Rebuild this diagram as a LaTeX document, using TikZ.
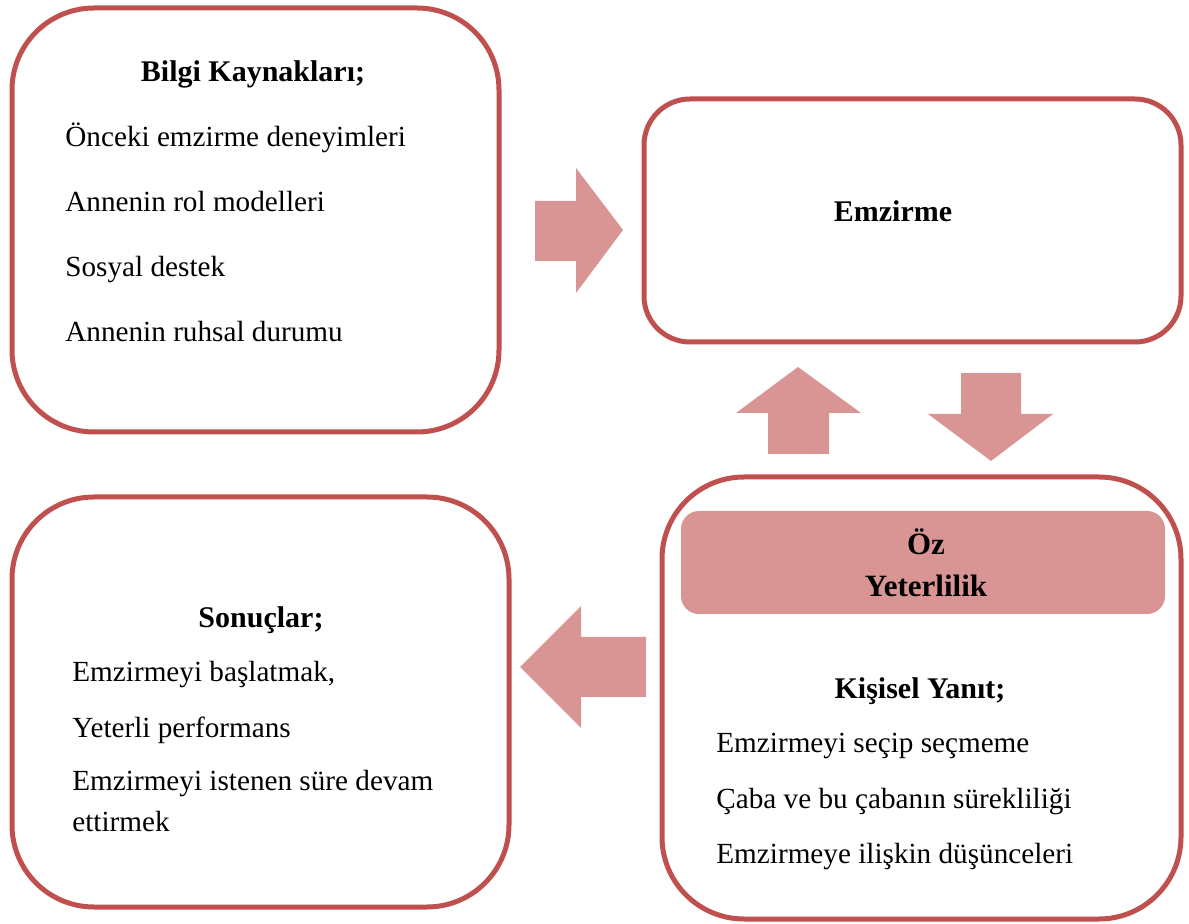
\documentclass[tikz,border=0pt]{standalone}
\usepackage{fontspec}
\setmainfont{Liberation Serif}
\usetikzlibrary{fit}
\definecolor{kirmizi}{HTML}{C0504D}
\definecolor{pembe}{HTML}{D99594}
\tikzset{kutu/.style={draw=kirmizi,line width=2.5pt,rounded corners=41pt,fill=white,inner sep=0pt},
 baslik/.style={font=\fontsize{15}{18}\selectfont\bfseries,inner sep=0pt,anchor=base},
 madde/.style={font=\fontsize{14.6}{21}\selectfont,inner sep=0pt,anchor=base west,align=left},
 blok/.style={fill=pembe,draw=none}}

\begin{document}
\begin{tikzpicture}[x=0.5pt,y=-0.5pt]
\useasboundingbox (0,0) rectangle (1189,924);
\node[kutu,fit={(12,8) (499,432)}] (bilgi) {};
\node[kutu,rounded corners=23pt,fit={(644,99) (1181,342)}] (emz) {};
\node[kutu,fit={(12,497) (509,907)}] (sonuc) {};
\node[kutu,fit={(662,477) (1181,919)}] (yanit) {};
\node[blok,rounded corners=9pt,inner sep=0pt,fit={(681,511) (1165,614)}] (oz) {};
% bilgi kaynaklari
\node[baslik] (bilgiT) at (253,82) {Bilgi Kaynakları;};
\node[madde] (b1) at (65,147) {Önceki emzirme deneyimleri};
\node[madde] (b2) at (65,212) {Annenin rol modelleri};
\node[madde] (b3) at (65,277) {Sosyal destek};
\node[madde] (b4) at (65,342) {Annenin ruhsal durumu};
% emzirme
\node[baslik] (emzT) at (893,222) {Emzirme};
% oz yeterlilik
\node[baslik,font=\fontsize{15.5}{18}\selectfont\bfseries] (ozT1) at (926,555) {Öz};
\node[baslik,font=\fontsize{15.5}{18}\selectfont\bfseries] (ozT2) at (926,597) {Yeterlilik};
\node[baslik] (yanitT) at (920,698) {Kişisel Yanıt;};
\node[madde] (y1) at (716,753) {Emzirmeyi seçip seçmeme};
\node[madde] (y2) at (716,808) {Çaba ve bu çabanın sürekliliği};
\node[madde] (y3) at (716,863) {Emzirmeye ilişkin düşünceleri};
% sonuclar
\node[baslik] (sonucT) at (261,628) {Sonuçlar;};
\node[madde] (s1) at (72,682) {Emzirmeyi başlatmak,};
\node[madde] (s2) at (72,737) {Yeterli performans};
\node[madde] (s3) at (72,790) {Emzirmeyi istenen süre devam};
\node[madde] (s4) at (72,831) {ettirmek};
% blok oklar
\fill[blok] (535,201)--(576,201)--(576,168)--(623,230)--(576,293)--(576,261)--(535,261)--cycle;
\fill[blok] (768,454)--(768,413)--(736,413)--(798,367)--(861,413)--(829,413)--(829,454)--cycle;
\fill[blok] (961,373)--(1021,373)--(1021,414)--(1053,414)--(991,461)--(928,414)--(961,414)--cycle;
\fill[blok] (646,637)--(581,637)--(581,606)--(520,667)--(581,728)--(581,697)--(646,697)--cycle;
\end{tikzpicture}
\end{document}
